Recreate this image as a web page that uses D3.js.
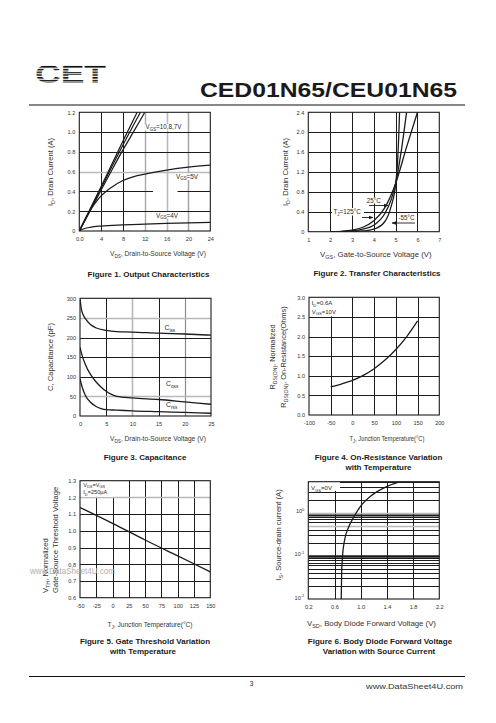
<!DOCTYPE html>
<html><head><meta charset="utf-8">
<script src="https://cdn.jsdelivr.net/npm/d3@7"></script>
<style>body{margin:0;background:#fff}svg{display:block}text{font-family:"Liberation Sans",Arial,sans-serif}</style>
</head><body><svg id="c" width="496" height="723"></svg>
<script>
// ---------- DATA ----------
// Figure 1 Output characteristics
const f1XTicks=[0,4,8,12,16,20,24], f1XLabels=["0.0","4","8","12","16","20","24"];
const f1YTicks=[0,0.2,0.4,0.6,0.8,1.0,1.2], f1YLabels=["0","0.2","0.4","0.6","0.8","1.0","1.2"];
const f1Vgs10=[[0,0],[2,0.225],[4,0.45],[6,0.68],[8,0.91],[10.6,1.2]];
const f1Vgs8=[[0,0],[2,0.215],[4,0.435],[6,0.655],[8,0.87],[11.2,1.2]];
const f1Vgs7=[[0,0],[2,0.205],[4,0.415],[6,0.62],[8,0.82],[10,1.01],[12,1.2]];
const f1Vgs5=[[0,0],[1,0.11],[2,0.21],[3,0.29],[4,0.355],[5,0.405],[6,0.445],[8,0.51],[10,0.55],[12,0.575],[16,0.615],[20,0.645],[24,0.665]];
const f1Vgs4=[[0,0],[0.5,0.015],[1,0.025],[2,0.037],[4,0.05],[8,0.062],[12,0.07],[16,0.077],[20,0.083],[24,0.088]];
// Figure 2 Transfer characteristics
const f2XTicks=[1,2,3,4,5,6,7], f2XLabels=["1","2","3","4","5","6","7"];
const f2YTicks=[0,0.4,0.8,1.2,1.6,2.0,2.4], f2YLabels=["0","0.4","0.8","1.2","1.6","2.0","2.4"];
const f2T125=[[2,0],[2.5,0.008],[3,0.03],[3.5,0.09],[4,0.22],[4.5,0.48],[5,0.97],[5.5,1.7],[6,2.4]];
const f2T25=[[2,0],[2.5,0.003],[3,0.015],[3.5,0.05],[4,0.13],[4.5,0.36],[4.8,0.65],[5,0.97],[5.25,1.6],[5.5,2.4]];
const f2Tm55=[[2.5,0],[3,0.004],[3.5,0.015],[4,0.05],[4.5,0.2],[4.8,0.52],[5,0.95],[5.08,1.35],[5.14,1.9],[5.18,2.4]];
// Figure 3 Capacitance
const f3XTicks=[0,5,10,15,20,25], f3XLabels=["0","5","10","15","20","25"];
const f3YTicks=[0,50,100,150,200,250,300], f3YLabels=["0","50","100","150","200","250","300"];
const f3Ciss=[[0,298],[0.3,270],[0.6,258],[1,249],[2,233],[3,225],[5,218],[7,215],[10,214],[15,211],[20,209],[25,206]];
const f3Coss=[[0,175],[0.5,150],[1,132],[2,106],[3,88],[4,74],[5,63],[6,55],[7,50],[10,46],[15,42],[20,36],[25,30]];
const f3Crss=[[0,95],[0.5,70],[1,53],[2,35],[3,25],[4,19],[5,16],[7,15],[10,13],[15,11],[20,9],[25,7]];
// Figure 4 On-resistance vs temperature
const f4XTicks=[-100,-50,0,50,100,150,200], f4XLabels=["-100","-50","0","50","100","150","200"];
const f4YTicks=[0,0.5,1.0,1.5,2.0,2.5,3.0], f4YLabels=["0.0","0.5","1.0","1.5","2.0","2.5","3.0"];
const f4Rds=[[-50,0.72],[-25,0.79],[0,0.88],[25,1.01],[50,1.18],[75,1.4],[100,1.67],[125,2.0],[150,2.4]];
// Figure 5 Gate threshold vs temperature
const f5XTicks=[-50,-25,0,25,50,75,100,125,150], f5XLabels=["-50","-25","0","25","50","75","100","125","150"];
const f5YTicks=[0.6,0.7,0.8,0.9,1.0,1.1,1.2,1.3], f5YLabels=["0.6","0.7","0.8","0.9","1.0","1.1","1.2","1.3"];
const f5Vth=[[-50,1.14],[0,1.045],[50,0.945],[100,0.85],[150,0.755]];
// Figure 6 Body diode
const f6XTicks=[0.2,0.6,1.0,1.4,1.8,2.2], f6XLabels=["0.2","0.6","1.0","1.4","1.8","2.2"];
const f6YTicks=[0.01,0.1,1], f6YExp=["-2","-1","0"];
const f6Is=[[0.703,0.01],[0.709,0.04],[0.723,0.1],[0.754,0.23],[0.815,0.46],[0.89,0.77],[1.02,1.55],[1.15,2.4],[1.35,3.7],[1.6,5.2]];

// ---------- DRAW ----------
const svg=d3.select("#c");
const INK="#1c1c1c", GRAY="#b9b9b9", TXT="#2a2a2a";
const defs=svg.append("defs");

function rich(t,parts,size){
  let shift=0;
  parts.forEach(p=>{
    let str=p, fs=size, target=0;
    if(typeof p==="object"){str=p.t; fs=size*0.7; target=p.k==="sub"?size*0.28:-size*0.42;}
    t.append("tspan").attr("dy",(target-shift).toFixed(2)).attr("font-size",fs).text(str);
    shift=target;
  });
  return t;
}
function label(parent,x,y,parts,o={}){
  const size=o.size||8;
  const t=parent.append("text").attr("x",x).attr("y",y).attr("font-size",size)
    .attr("fill",o.fill||TXT).attr("text-anchor",o.anchor||"middle");
  if(o.bold)t.attr("font-weight","bold");
  if(o.family)t.attr("font-family",o.family);
  if(o.rot)t.attr("transform",`rotate(-90,${x},${y})`);
  rich(t,typeof parts==="string"?[parts]:parts,size);
  if(o.len)t.attr("textLength",o.len).attr("lengthAdjust","spacingAndGlyphs");
  return t;
}

let clipN=0;
function panel(o){
  const [L,R,T,B]=o.box;
  const x=(o.xlog?d3.scaleLog():d3.scaleLinear()).domain(o.xd).range([L,R]);
  const y=(o.ylog?d3.scaleLog():d3.scaleLinear()).domain(o.yd).range([B,T]);
  const g=svg.append("g");
  const cid="clip"+(clipN++);
  defs.append("clipPath").attr("id",cid).append("rect").attr("x",L).attr("y",T).attr("width",R-L).attr("height",B-T);
  const gg=g.append("g").attr("clip-path",`url(#${cid})`);
  (o.vg||[]).forEach(d=>{
    const px=Math.round(x(d.v))+0.5;
    gg.append("line").attr("x1",px).attr("x2",px)
      .attr("y1",d.y0!=null?y(d.y0):B).attr("y2",d.y1!=null?y(d.y1):T)
      .attr("stroke",d.c||INK).attr("stroke-width",d.w||1);
  });
  (o.hg||[]).forEach(d=>{
    const py=Math.round(y(d.v))+0.5;
    gg.append("line").attr("y1",py).attr("y2",py)
      .attr("x1",d.x0!=null?x(d.x0):L).attr("x2",d.x1!=null?x(d.x1):R)
      .attr("stroke",d.c||INK).attr("stroke-width",d.w||1);
  });
  const ax=g.append("g").attr("transform",`translate(0,${B})`)
    .call(d3.axisBottom(x).tickValues(o.xt).tickFormat((d,i)=>o.xl[i]).tickSize(0).tickPadding(6));
  const ay=g.append("g").attr("transform",`translate(${L},0)`)
    .call(d3.axisLeft(y).tickValues(o.yt).tickFormat((d,i)=>o.yl?o.yl[i]:"").tickSize(0).tickPadding(4));
  [ax,ay].forEach(a=>{a.select(".domain").remove();
    a.attr("font-family","Liberation Sans, Arial, sans-serif").attr("font-size",5.6);
    a.selectAll("text").attr("fill","#333");});
  return {x,y,g,gg,ay,L,R,T,B};
}
function curve(p,data,w){
  const line=d3.line().x(d=>p.x(d[0])).y(d=>p.y(d[1])).curve(d3.curveMonotoneX);
  p.gg.append("path").datum(data).attr("d",line).attr("fill","none").attr("stroke",INK).attr("stroke-width",w||1.3);
}
function frame(p){
  p.g.append("rect").attr("x",p.L).attr("y",p.T).attr("width",p.R-p.L).attr("height",p.B-p.T)
    .attr("fill","none").attr("stroke",INK).attr("stroke-width",1.1);
}
function whiteBox(p,x0,y0,x1,y1){
  p.gg.append("rect").attr("x",x0).attr("y",y0).attr("width",x1-x0).attr("height",y1-y0).attr("fill","#fff");
}
defs.append("marker").attr("id","arr").attr("viewBox","0 0 10 10").attr("refX",9).attr("refY",5)
  .attr("markerWidth",5).attr("markerHeight",5).attr("orient","auto-start-reverse")
  .append("path").attr("d","M0,1 L10,5 L0,9 Z").attr("fill",INK);
function arrow(x1,y1,x2,y2){
  svg.append("line").attr("x1",x1).attr("y1",y1).attr("x2",x2).attr("y2",y2)
    .attr("stroke",INK).attr("stroke-width",0.9).attr("marker-end","url(#arr)");
}

// ---------- HEADER ----------
const pat=defs.append("pattern").attr("id","stripes").attr("patternUnits","userSpaceOnUse")
  .attr("x",0).attr("y",63.3).attr("width",8).attr("height",2.75);
pat.append("rect").attr("x",0).attr("y",0).attr("width",8).attr("height",1.55).attr("fill","#111");
svg.append("text").attr("x",35).attr("y",82.5).attr("font-size",26.5).attr("font-weight","bold")
  .attr("font-family","Liberation Sans, Arial, sans-serif").attr("fill","url(#stripes)")
  .attr("textLength",71).attr("lengthAdjust","spacingAndGlyphs").text("CET");
label(svg,200,96.5,"CED01N65/CEU01N65",{size:20,bold:true,anchor:"start",len:257,fill:"#1a1a1a"});
svg.append("line").attr("x1",29).attr("x2",465).attr("y1",105).attr("y2",105).attr("stroke","#111").attr("stroke-width",1.2);

// ---------- FIGURE 1 ----------
{
  const p=panel({box:[79.3,210.3,112.3,231],xd:[0,24],yd:[0,1.2],xt:f1XTicks,xl:f1XLabels,yt:f1YTicks,yl:f1YLabels,
    vg:[{v:4},{v:8},{v:12,c:"#a9a9a9",w:1.4},{v:16,c:GRAY,w:1.6},{v:20,c:"#a9a9a9",w:1.6}],
    hg:[{v:0.2},{v:0.4,x1:13.5},{v:0.4,x0:18},{v:0.6,c:GRAY,w:1.6},{v:0.8},{v:1.0}]});
  whiteBox(p,144.5,124,184,130.5);
  whiteBox(p,175.5,173.5,200,180);
  whiteBox(p,155.5,212,182,218.5);
  [f1Vgs10,f1Vgs8,f1Vgs7,f1Vgs5,f1Vgs4].forEach(d=>curve(p,d,1.25));
  frame(p);
  label(svg,145.5,129.3,["V",{t:"GS",k:"sub"},"=10,8,7V"],{size:6.3,anchor:"start"});
  label(svg,176,178.7,["V",{t:"GS",k:"sub"},"=5V"],{size:6.3,anchor:"start"});
  label(svg,156,217.5,["V",{t:"GS",k:"sub"},"=4V"],{size:6.3,anchor:"start"});
  label(svg,52.5,172,["I",{t:"D",k:"sub"},", Drain Current (A)"],{size:7.6,rot:true,fill:"#333"});
  label(svg,158,256.3,["V",{t:"DS",k:"sub"},", Drain-to-Source Voltage (V)"],{size:7.6,len:96,fill:"#333"});
  label(svg,148.5,276.5,"Figure 1. Output Characteristics",{size:8,bold:true,fill:"#1a1a1a"});
}
// ---------- FIGURE 2 ----------
{
  const p=panel({box:[308.3,439.3,112.3,231.7],xd:[1,7],yd:[0,2.4],xt:f2XTicks,xl:f2XLabels,yt:f2YTicks,yl:f2YLabels,
    vg:[{v:2},{v:3},{v:4},{v:5},{v:6}],
    hg:[{v:0.4},{v:0.8},{v:1.2},{v:1.6},{v:2.0}]});
  whiteBox(p,332,208,364,215.5);
  whiteBox(p,366,197.5,379.5,203.5);
  whiteBox(p,398,214,415.5,221);
  [f2T125,f2T25,f2Tm55].forEach(d=>curve(p,d,1.3));
  frame(p);
  label(svg,366.7,203.3,"25°C",{size:6.3,anchor:"start"});
  arrow(369,205.5,388,205.5);
  label(svg,333.5,214.4,["T",{t:"J",k:"sub"},"=125°C"],{size:6.3,anchor:"start"});
  arrow(362,217.5,373,217.5);
  label(svg,398.5,219.8,"-55°C",{size:6.3,anchor:"start"});
  arrow(415,223,392,223);
  label(svg,288,172,["I",{t:"D",k:"sub"},", Drain Current (A)"],{size:7.6,rot:true,fill:"#333"});
  label(svg,375.8,256.5,["V",{t:"GS",k:"sub"},", Gate-to-Source Voltage (V)"],{size:7.8,fill:"#333"});
  label(svg,377,276,"Figure 2. Transfer Characteristics",{size:8,bold:true,fill:"#1a1a1a"});
}
// ---------- FIGURE 3 ----------
{
  const p=panel({box:[80,211,298.3,416],xd:[0,25],yd:[0,300],xt:f3XTicks,xl:f3XLabels,yt:f3YTicks,yl:f3YLabels,
    vg:[{v:5},{v:10,c:GRAY,w:1.6},{v:15},{v:20,c:"#8c8c8c",w:1.2}],
    hg:[{v:50,c:GRAY,w:1.6},{v:100},{v:150},{v:200},{v:250,c:GRAY,w:1.6}]});
  [f3Ciss,f3Coss,f3Crss].forEach(d=>curve(p,d,1.3));
  frame(p);
  label(svg,164.5,330,["C",{t:"iss",k:"sub"}],{size:6.8,anchor:"start"});
  label(svg,166,386,["C",{t:"oss",k:"sub"}],{size:6.8,anchor:"start"});
  label(svg,166,407,["C",{t:"rss",k:"sub"}],{size:6.8,anchor:"start"});
  label(svg,52.5,357,"C, Capacitance (pF)",{size:7.6,rot:true,fill:"#333"});
  label(svg,158,440.8,["V",{t:"DS",k:"sub"},", Drain-to-Source Voltage (V)"],{size:7.6,len:96,fill:"#333"});
  label(svg,145,460,"Figure 3. Capacitance",{size:8,bold:true,fill:"#1a1a1a"});
}
// ---------- FIGURE 4 ----------
{
  const p=panel({box:[309,439.3,297.3,415],xd:[-100,200],yd:[0,3],xt:f4XTicks,xl:f4XLabels,yt:f4YTicks,yl:f4YLabels,
    vg:[{v:-50},{v:0},{v:50},{v:100},{v:150}],
    hg:[{v:0.5},{v:1.0},{v:1.5},{v:2.0},{v:2.5}]});
  whiteBox(p,309,297,340,316.3);
  curve(p,f4Rds,1.3);
  frame(p);
  label(svg,311.7,305.3,["I",{t:"D",k:"sub"},"=0.6A"],{size:6,anchor:"start"});
  label(svg,311.7,313.5,["V",{t:"GS",k:"sub"},"=10V"],{size:6,anchor:"start"});
  label(svg,275,357,["R",{t:"DS(ON)",k:"sub"},", Normalized"],{size:7.4,rot:true,fill:"#333"});
  label(svg,286,357,["R",{t:"DS(ON)",k:"sub"},", On-Resistance(Ohms)"],{size:7.4,rot:true,fill:"#333"});
  label(svg,387,440.8,["T",{t:"J",k:"sub"},", Junction Temperature(°C)"],{size:7.6,len:75,fill:"#333"});
  label(svg,378.5,460,"Figure 4. On-Resistance Variation",{size:8,bold:true,fill:"#1a1a1a"});
  label(svg,378.5,470,"with Temperature",{size:8,bold:true,fill:"#1a1a1a"});
}
// ---------- FIGURE 5 ----------
{
  const p=panel({box:[80,210.3,480.7,597.7],xd:[-50,150],yd:[0.6,1.3],xt:f5XTicks,xl:f5XLabels,yt:f5YTicks,yl:f5YLabels,
    vg:[{v:-25},{v:0},{v:25},{v:50},{v:75},{v:100},{v:125}],
    hg:[{v:0.7},{v:0.8},{v:0.9},{v:1.0},{v:1.1},{v:1.2,c:GRAY,w:1.6}]});
  whiteBox(p,80,480.7,115,496.8);
  curve(p,f5Vth,1.3);
  frame(p);
  label(svg,83.3,486.6,["V",{t:"DS",k:"sub"},"=V",{t:"GS",k:"sub"}],{size:5.6,anchor:"start"});
  label(svg,83.3,494.4,["I",{t:"D",k:"sub"},"=250μA"],{size:5.6,anchor:"start"});
  label(svg,47.5,593,["V",{t:"TH",k:"sub"},", Normalized"],{size:7.6,rot:true,anchor:"start",fill:"#333"});
  label(svg,57.5,593,"Gate-Source Threshold Voltage",{size:7.6,rot:true,anchor:"start",fill:"#333"});
  label(svg,150,626.5,["T",{t:"J",k:"sub"},", Junction Temperature(°C)"],{size:7.6,len:85,fill:"#333"});
  label(svg,145,643.5,"Figure 5. Gate Threshold Variation",{size:8,bold:true,fill:"#1a1a1a"});
  label(svg,143,653.5,"with Temperature",{size:8,bold:true,fill:"#1a1a1a"});
  svg.append("text").attr("x",30).attr("y",574).attr("font-size",9).attr("font-family","Liberation Serif, serif")
    .attr("fill","#b0b0b0").attr("textLength",85).attr("lengthAdjust","spacingAndGlyphs").text("www.DataSheet4U.com");
}
// ---------- FIGURE 6 ----------
{
  const minor=[];
  [0.01,0.1,1].forEach(dec=>{for(let k=2;k<=9;k++){const v=dec*k; if(v<=5.2) minor.push(v);}});
  const hg=minor.map(v=>({v}));
  hg.push({v:1,c:GRAY,w:1.6},{v:0.1,w:2.6},{v:0.9,w:2});
  hg.forEach(d=>{if(Math.abs(d.v-0.5)<1e-9){d.c=GRAY;d.w=1.4;}});
  const p=panel({box:[308.3,439.3,481.7,599],xd:[0.2,2.2],yd:[0.01,5.2],ylog:true,xt:f6XTicks,xl:f6XLabels,yt:f6YTicks,yl:null,
    vg:[{v:0.6},{v:1.0},{v:1.4},{v:1.8}],hg});
  whiteBox(p,308.3,481.7,340,490.8);
  curve(p,f6Is,1.3);
  frame(p);
  p.ay.selectAll(".tick text").each(function(d,i){
    const t=d3.select(this).text(null);
    rich(t,["10",{t:f6YExp[i],k:"sup"}],5.6);
  });
  label(svg,311,490,["V",{t:"GS",k:"sub"},"=0V"],{size:6,anchor:"start"});
  label(svg,281,535,["I",{t:"S",k:"sub"},", Source-drain current (A)"],{size:7.6,rot:true,fill:"#333"});
  label(svg,371.5,626,["V",{t:"SD",k:"sub"},", Body Diode Forward Voltage (V)"],{size:7.8,fill:"#333"});
  label(svg,380,643.5,"Figure 6. Body Diode Forward Voltage",{size:8,bold:true,fill:"#1a1a1a"});
  label(svg,379,653.5,"Variation with Source Current",{size:8,bold:true,fill:"#1a1a1a"});
}
// ---------- FOOTER ----------
svg.append("line").attr("x1",29).attr("x2",465).attr("y1",676.5).attr("y2",676.5).attr("stroke","#111").attr("stroke-width",1);
label(svg,251.5,686,"3",{size:6.5,fill:"#222"});
svg.append("text").attr("x",366).attr("y",688.5).attr("font-size",8).attr("font-family","Liberation Serif, serif")
  .attr("fill","#333").attr("textLength",97).attr("lengthAdjust","spacingAndGlyphs").text("www.DataSheet4U.com");
</script></body></html>
